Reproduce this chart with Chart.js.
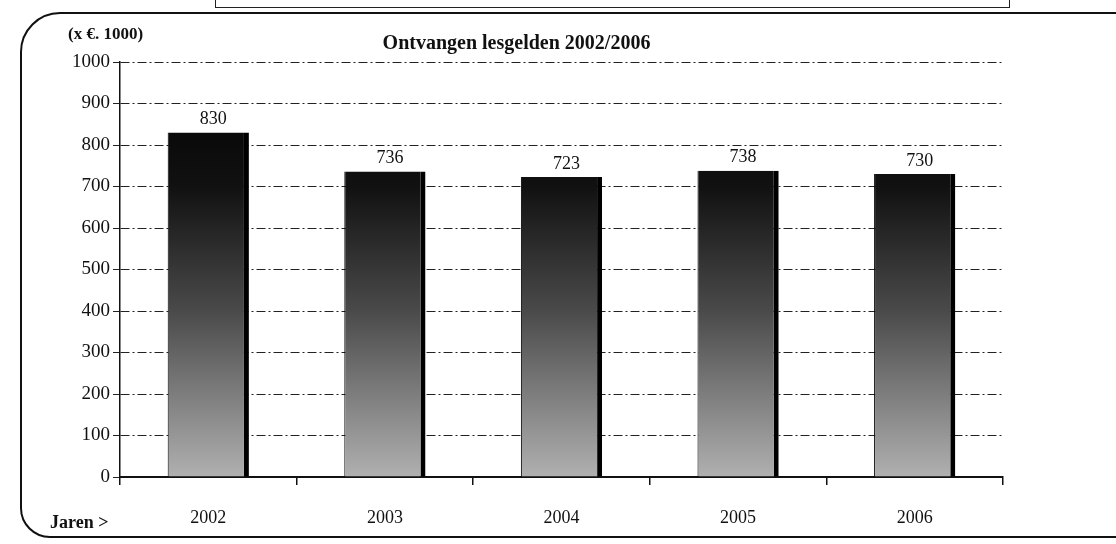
<!DOCTYPE html>
<html>
<head>
    <title>Ontvangen lesgelden</title>
    <script src="https://cdn.jsdelivr.net/npm/chart.js"></script>
    <style>
        body { margin: 0; background: #fff; }
        #wrap { position: relative; width: 1116px; height: 544px; }
        #frame {
            position: absolute; left: 20px; top: 12px; width: 1110px; height: 526px;
            border: 2px solid #111; border-radius: 40px 0 0 30px; box-sizing: border-box;
        }
        #topline {
            position: absolute; left: 215px; top: 0; width: 795px; height: 8px;
            border: 1px solid #222; border-top: none; box-sizing: border-box;
        }
        canvas { position: absolute; left: 0; top: 0; }
    </style>
</head>
<body>
<div id="wrap">
    <div id="topline"></div>
    <div id="frame"></div>
    <canvas id="lesChart" width="1116" height="544"></canvas>
</div>
<script>
    const years = ['2002', '2003', '2004', '2005', '2006'];
    const lesgelden = [830, 736, 723, 738, 730];
    const yTicks = [0, 100, 200, 300, 400, 500, 600, 700, 800, 900, 1000];

    const serif = '"Liberation Serif", "DejaVu Serif", serif';

    // value labels + title texts
    const textPlugin = {
        id: 'texts',
        afterDatasetsDraw(chart) {
            const ctx = chart.ctx;
            const area = chart.chartArea;
            ctx.save();
            ctx.fillStyle = '#111';
            ctx.textAlign = 'center';
            ctx.textBaseline = 'bottom';
            ctx.font = '18px ' + serif;
            chart.getDatasetMeta(0).data.forEach((bar, i) => {
                ctx.fillText(lesgelden[i], bar.x + 5, bar.y - 4);
            });
            ctx.font = 'bold 20px ' + serif;
            ctx.fillText('Ontvangen lesgelden 2002/2006', (area.left + area.right) / 2 - 45, area.top - 8);
            ctx.textAlign = 'left';
            ctx.font = 'bold 17px ' + serif;
            ctx.fillText('(x \u20AC. 1000)', 68, area.top - 19);
            ctx.textBaseline = 'middle';
            ctx.font = 'bold 18px ' + serif;
            ctx.fillText('Jaren >', 50, area.bottom + 46);
            ctx.restore();
        }
    };

    const ctx = document.getElementById('lesChart').getContext('2d');
    new Chart(ctx, {
        type: 'bar',
        data: {
            labels: years,
            datasets: [{
                data: lesgelden,
                backgroundColor: (c) => {
                    const a = c.chart.chartArea;
                    if (!a) return '#555';
                    const g = c.chart.ctx.createLinearGradient(0, a.top, 0, a.bottom);
                    g.addColorStop(0, '#000');
                    g.addColorStop(0.3, '#111');
                    g.addColorStop(0.6, '#4a4a4a');
                    g.addColorStop(1, '#b0b0b0');
                    return g;
                },
                borderColor: '#000',
                borderWidth: { top: 0, left: 1, bottom: 0, right: 5 },
                borderSkipped: false,
                barPercentage: 0.46,
                categoryPercentage: 1
            }]
        },
        options: {
            responsive: false,
            animation: false,
            layout: { padding: { left: 0, right: 113, top: 62, bottom: 0 } },
            plugins: { legend: { display: false }, tooltip: { enabled: false } },
            scales: {
                x: {
                    offset: true,
                    grid: { display: true, offset: true, drawOnChartArea: false, color: '#111', tickLength: 8, lineWidth: 1.5 },
                    border: { color: '#111', width: 2 },
                    ticks: { color: '#111', font: { family: serif, size: 18 }, padding: 22 },
                    afterFit: (s) => { s.height = 67; }
                },
                y: {
                    min: 0,
                    max: 1000,
                    afterBuildTicks: (s) => { s.ticks = yTicks.map(v => ({ value: v })); },
                    grid: { color: '#222', lineWidth: 1, tickLength: 7, tickBorderDash: [] },
                    border: { color: '#111', width: 1.5, dash: [9, 3, 2, 3] },
                    ticks: {
                        color: '#111',
                        font: { family: serif, size: 19 },
                        padding: 3,
                        callback: (v) => String(v)
                    },
                    afterFit: (s) => { s.width = 120; }
                }
            }
        },
        plugins: [textPlugin]
    });
</script>
</body>
</html>
